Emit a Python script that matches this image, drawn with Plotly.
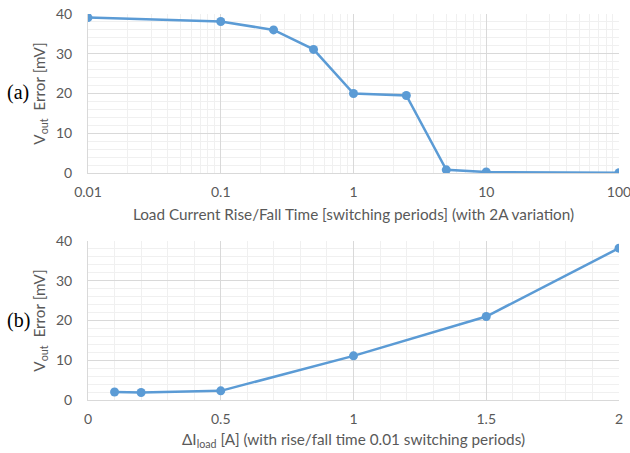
import plotly.graph_objects as go

# Data (a)
rise_time = [0.01, 0.1, 0.25, 0.5, 1, 2.5, 5, 10, 100]
err_a = [39.1, 38.1, 36.0, 31.1, 20.0, 19.5, 0.8, 0.25, 0.1]
# Data (b)
delta_i = [0.1, 0.2, 0.5, 1, 1.5, 2]
err_b = [2.0, 1.9, 2.3, 11.1, 21.0, 38.2]

x_ticks_a = [0.01, 0.1, 1, 10, 100]
x_ticklabels_a = ["0.01", "0.1", "1", "10", "100"]

blue = "#5B9BD5"
grid_major = "#D9D9D9"
grid_minor = "#F0F0F0"
tick_col = "#595959"
FONT = "Lato"

minor_log = [m * 10 ** e for e in range(-2, 2) for m in range(2, 10)]

fig = go.Figure()
fig.add_trace(go.Scatter(x=rise_time, y=err_a, mode="lines+markers",
                         line=dict(color=blue, width=2.5),
                         marker=dict(color=blue, size=9),
                         xaxis="x", yaxis="y", showlegend=False))
fig.add_trace(go.Scatter(x=delta_i, y=err_b, mode="lines+markers",
                         line=dict(color=blue, width=2.5),
                         marker=dict(color=blue, size=9),
                         xaxis="x2", yaxis="y2", showlegend=False))

axis_common = dict(showgrid=True, gridcolor=grid_major, gridwidth=1,
                   zeroline=False, showline=True, linecolor=grid_major,
                   tickfont=dict(family=FONT, size=14, color=tick_col),
                   ticks="", automargin=False, ticklabeloverflow="allow")

title_font = dict(family=FONT, size=15.3, color=tick_col)

fig.update_layout(
    width=630, height=453,
    margin=dict(l=88, r=11, t=14, b=53),
    paper_bgcolor="white", plot_bgcolor="white",
    font=dict(family=FONT, color=tick_col),
    xaxis=dict(type="log", range=[-2, 2], tickvals=x_ticks_a, ticktext=x_ticklabels_a,
               anchor="y", domain=[0, 1], ticklabelstandoff=6,
               minor=dict(tickvals=minor_log, showgrid=True, gridcolor=grid_minor, ticks=""),
               title=dict(text="Load Current Rise/Fall Time [switching periods] (with 2A variation)",
                          font=title_font, standoff=10),
               **axis_common),
    yaxis=dict(range=[0, 40], dtick=10, anchor="x", domain=[0.588, 1], ticklabelstandoff=12,
               minor=dict(dtick=2, showgrid=True, gridcolor=grid_minor, ticks=""),
               title=dict(text="V<sub>out</sub>  Error [mV]", font=title_font, standoff=6),
               **axis_common),
    xaxis2=dict(range=[0, 2], dtick=0.5, anchor="y2", domain=[0, 1], ticklabelstandoff=6,
                minor=dict(dtick=0.1, showgrid=True, gridcolor=grid_minor, ticks=""),
                title=dict(text="ΔI<sub>load</sub> [A] (with rise/fall time 0.01 switching periods)",
                           font=title_font, standoff=8),
                **axis_common),
    yaxis2=dict(range=[0, 40], dtick=10, anchor="x2", domain=[0, 0.412], ticklabelstandoff=12,
                minor=dict(dtick=2, showgrid=True, gridcolor=grid_minor, ticks=""),
                title=dict(text="V<sub>out</sub>  Error [mV]", font=title_font, standoff=6),
                **axis_common),
)

# (a)/(b) panel labels, placed in paper coords from pixel positions
plot_w = 630 - 88 - 11
plot_h = 453 - 14 - 53
for label, px, py in [("(a)", 18, 93), ("(b)", 18, 320)]:
    fig.add_annotation(text=label, x=(px - 88) / plot_w, y=(400 - py) / plot_h,
                       xref="paper", yref="paper", showarrow=False,
                       xanchor="center", yanchor="middle",
                       font=dict(family="Liberation Serif", size=20, color="black"))

fig.write_html("out.html", config={"displayModeBar": False},
               post_script="document.body.style.margin='0px';document.body.style.overflow='hidden';")
